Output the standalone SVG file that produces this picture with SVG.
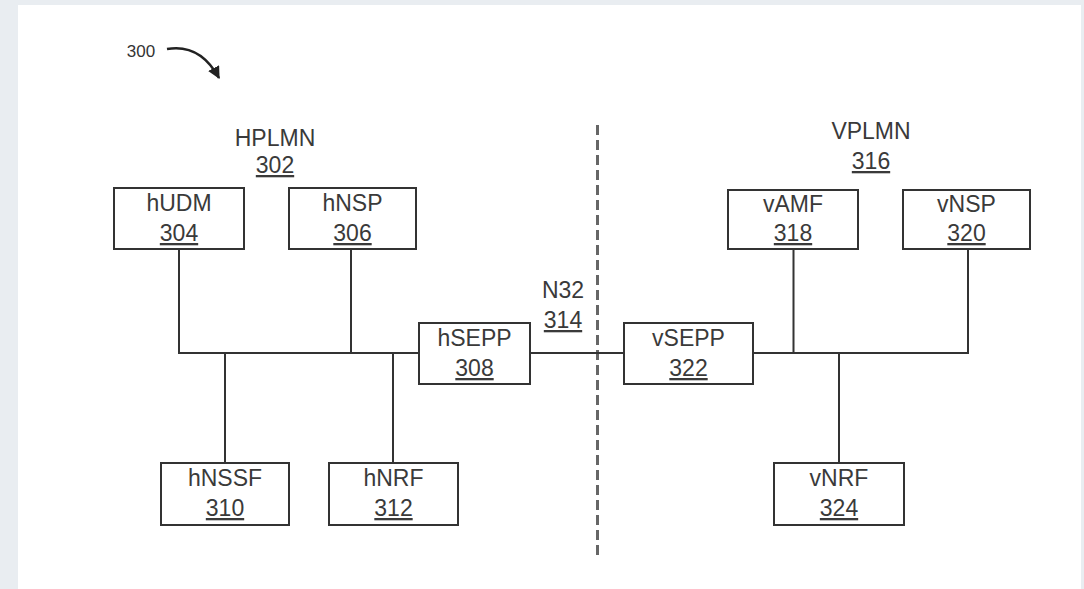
<svg xmlns="http://www.w3.org/2000/svg" width="1084" height="589" viewBox="0 0 1084 589">
<defs>
<style>
.bx{fill:#fff;stroke:#333;stroke-width:2}
.ln{fill:none;stroke:#333;stroke-width:2}
.t{font-family:"Liberation Sans",Arial,sans-serif;font-size:23px;fill:#3a3a3a;text-anchor:middle}
.u{text-decoration:underline}
</style>
<marker id="ah" viewBox="0 0 10 10" refX="9" refY="5" markerWidth="5" markerHeight="5" orient="auto"><path d="M0,0 L10,5 L0,10 Z" fill="#222"/></marker>
</defs>
<rect x="0" y="0" width="1084" height="589" fill="#e9edf1"/>
<rect x="18" y="5" width="1063" height="584" fill="#fff"/>
<g id="ref300">
<text x="141" y="57" style="font-family:'Liberation Sans',Arial,sans-serif;font-size:17px;fill:#333;text-anchor:middle">300</text>
<path d="M167,49 C190,45 207,56 219,78" fill="none" stroke="#222" stroke-width="2.5" marker-end="url(#ah)"/>
</g>
<g id="hplmn"><text class="t" x="275" y="146">HPLMN</text><text class="t u" x="275" y="173">302</text></g>
<g id="vplmn"><text class="t" x="871" y="139">VPLMN</text><text class="t u" x="871" y="169">316</text></g>
<g id="n32"><text class="t" x="563" y="298">N32</text><text class="t u" x="563" y="328">314</text></g>
<g id="connectors">
<line x1="597.5" y1="125" x2="597.5" y2="555" stroke="#666" stroke-width="3" stroke-dasharray="10,5"/>
<path class="ln" d="M179,249 V353 H419 M351,249 V353 M225,353 V463 M393,353 V463 M530,353 H624 M753,353 H968 V249 M793.5,249 V353 M839,353 V463"/>
</g>
<g id="hUDM"><rect class="bx" x="114" y="188" width="130" height="61"/><text class="t" x="179" y="211">hUDM</text><text class="t u" x="179" y="241">304</text></g>
<g id="hNSP"><rect class="bx" x="289" y="188" width="127" height="61"/><text class="t" x="352.5" y="211">hNSP</text><text class="t u" x="352.5" y="241">306</text></g>
<g id="hSEPP"><rect class="bx" x="419" y="323" width="111" height="61"/><text class="t" x="474.5" y="346">hSEPP</text><text class="t u" x="474.5" y="376">308</text></g>
<g id="hNSSF"><rect class="bx" x="161" y="463" width="128" height="62"/><text class="t" x="225" y="486">hNSSF</text><text class="t u" x="225" y="516">310</text></g>
<g id="hNRF"><rect class="bx" x="329" y="463" width="129" height="62"/><text class="t" x="393.5" y="486">hNRF</text><text class="t u" x="393.5" y="516">312</text></g>
<g id="vAMF"><rect class="bx" x="728" y="190" width="130" height="59"/><text class="t" x="793" y="212">vAMF</text><text class="t u" x="793" y="241">318</text></g>
<g id="vNSP"><rect class="bx" x="903" y="190" width="127" height="59"/><text class="t" x="966.5" y="212">vNSP</text><text class="t u" x="966.5" y="241">320</text></g>
<g id="vSEPP"><rect class="bx" x="624" y="323" width="129" height="61"/><text class="t" x="688.5" y="346">vSEPP</text><text class="t u" x="688.5" y="376">322</text></g>
<g id="vNRF"><rect class="bx" x="774" y="463" width="130" height="62"/><text class="t" x="839" y="486">vNRF</text><text class="t u" x="839" y="516">324</text></g>
</svg>
